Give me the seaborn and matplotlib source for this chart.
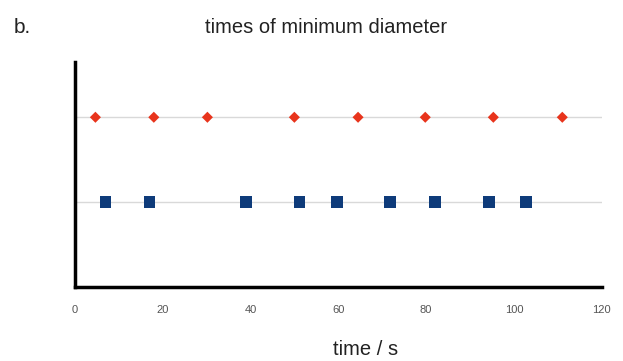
import numpy as np
import pandas as pd
import matplotlib
matplotlib.use("Agg")
import matplotlib.pyplot as plt
import seaborn as sns

# data
red_times = [4.7, 18.0, 30.2, 50.0, 64.5, 79.8, 95.3, 111.0]
blue_times = [7.0, 17.0, 39.0, 51.2, 59.7, 71.8, 82.0, 94.3, 102.8]
red_row = 2
blue_row = 1

sns.set_theme(style="white")
plt.rcParams['font.family'] = ['Liberation Sans', 'DejaVu Sans']

red_df = pd.DataFrame({"time": red_times, "row": red_row})
blue_df = pd.DataFrame({"time": blue_times, "row": blue_row})

fig = plt.figure(figsize=(6.23, 3.61), dpi=100)
ax = fig.add_axes([0.12, 0.205, 0.846, 0.623])

for yv in (red_row, blue_row):
    ax.axhline(yv, color="#d9d9d9", lw=1, zorder=0)

sns.scatterplot(data=red_df, x="time", y="row", ax=ax, marker="D",
                color="#e8341c", s=32, edgecolor="none", zorder=3)
sns.scatterplot(data=blue_df, x="time", y="row", ax=ax, marker="s",
                color="#0e3b7a", s=70, edgecolor="none", zorder=3)

ax.set_xlim(0, 120)
ax.set_ylim(0, 2.65)
ax.set_xticks(np.arange(0, 121, 20))
ax.set_yticks([])
ax.tick_params(axis="x", length=0, labelsize=8, labelcolor="#555555", pad=13)
ax.set_xlabel("time / s", fontsize=14.5, color="#222222", va="center")
ax.xaxis.set_label_coords(0.552, -0.276)
ax.set_ylabel("")

for side in ("top", "right"):
    ax.spines[side].set_visible(False)
for side in ("left", "bottom"):
    ax.spines[side].set_color("black")
    ax.spines[side].set_linewidth(2.5)

fig.text(0.524, 0.925, "times of minimum diameter", ha="center", va="center",
         fontsize=14.5, color="#222222")
fig.text(0.022, 0.925, "b.", ha="left", va="center", fontsize=15,
         color="#222222", fontweight="medium")

fig.savefig("out.png", dpi=100, facecolor="white")
